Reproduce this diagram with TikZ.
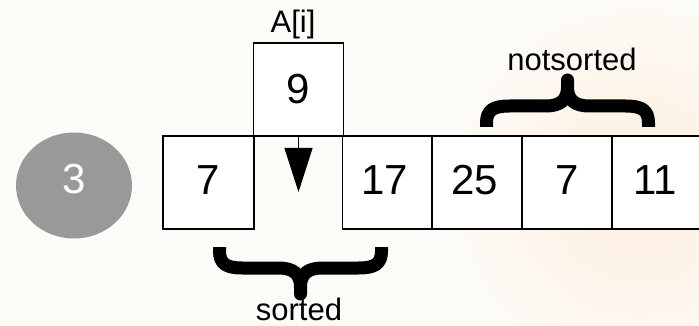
\documentclass[tikz,border=0pt]{standalone}
\usepackage{fontspec}
\setmainfont{Liberation Sans}
\usetikzlibrary{arrows.meta,shapes.geometric}
\definecolor{bg}{RGB}{253,251,247}
\definecolor{peach}{RGB}{253,238,220}
\definecolor{circgrey}{RGB}{153,153,153}
\tikzset{
  cell/.style={draw=black, line width=1.1pt, fill=white, minimum width=90pt, minimum height=93pt, inner sep=0pt, outer sep=0pt},
  num/.style={inner sep=0pt, font=\fontsize{42}{50}\selectfont},
  lbl/.style={font=\fontsize{31}{36}\selectfont, inner sep=0pt, anchor=base},
  bracestroke/.style={line width=13pt, line cap=butt, line join=round, black},
  pointer/.style={line width=1.1pt, -{Triangle[width=28pt,length=44pt]}}
}
\begin{document}
\begin{tikzpicture}[x=1pt,y=-1pt]
\useasboundingbox (0,0) rectangle (699,326);
\fill[bg] (0,0) rectangle (699,326);
\shade[inner color=peach, outer color=bg] (640,190) circle (190);
\clip (0,0) rectangle (699,326);
% circle with step number
\node[ellipse, fill=circgrey, minimum width=116pt, minimum height=106pt, inner sep=0pt] (stepno) at (74,185.5) {};
\node[num, text=white] (three) at (74,179) {3};
% cells
\node[cell, minimum width=91pt] (c1) at (208.5,182.5) {};
\node[num] (t1) at (208.5,180) {7};
\node[cell, minimum width=89.5pt] (nine) at (298.5,89.5) {};
\node[num] (t9) at (298.5,89) {9};
\node[cell] (c3) at (387.5,182.5) {};
\node[num] (t3) at (385,180) {17};
\node[cell] (c4) at (477,182.5) {};
\node[num] (t4) at (475,180) {25};
\node[cell] (c5) at (567,182.5) {};
\node[num] (t5) at (567,180) {7};
\node[cell] (c6) at (657,182.5) {};
\node[num] (t6) at (655,180) {11};
% labels
\node[lbl] (ai) at (293,33) {A[i]};
\node[lbl] (ns) at (572,70.5) {notsorted};
\node[lbl] (so) at (299,320) {sorted};
% arrow
\coordinate (tip) at (298.5,192);
\draw[pointer] (nine.south) -- (tip);
% braces
\begin{scope}[shift={(300.5,247)}]
\draw[bracestroke] (-81,0) -- (-81,4) .. controls (-81,17) and (-74,21) .. (-58,21) -- (-22,21)
   .. controls (-7,21) and (0,27) .. (0,40) -- (0,47) -- (0,40)
   .. controls (0,27) and (7,21) .. (22,21) -- (58,21) .. controls (74,21) and (81,17) .. (81,4) -- (81,0);
\end{scope}
\begin{scope}[shift={(567.5,127)}, yscale=-1]
\draw[bracestroke] (-81,0) -- (-81,4) .. controls (-81,17) and (-74,21) .. (-58,21) -- (-22,21)
   .. controls (-7,21) and (0,27) .. (0,40) -- (0,47) -- (0,40)
   .. controls (0,27) and (7,21) .. (22,21) -- (58,21) .. controls (74,21) and (81,17) .. (81,4) -- (81,0);
\end{scope}
\end{tikzpicture}
\end{document}
